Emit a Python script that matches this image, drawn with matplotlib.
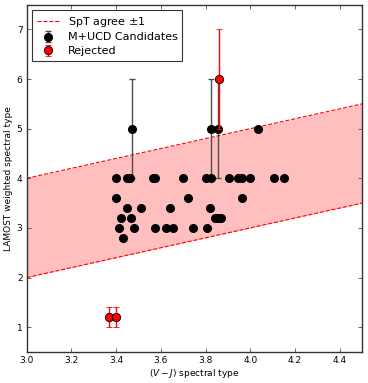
import numpy as np
import matplotlib
matplotlib.use("Agg")
import matplotlib.pyplot as plt

# accepted candidates: (V-J) spectral type, LAMOST type, error
cand_vj = [3.47, 3.826, 3.855, 4.035,
           3.40, 3.45, 3.46, 3.565, 3.575, 3.70, 3.80, 3.825, 3.905, 3.945, 3.965, 4.00, 4.105, 4.15,
           3.40, 3.72, 3.965,
           3.45, 3.51, 3.64, 3.82,
           3.42, 3.468, 3.84, 3.855, 3.87,
           3.415, 3.478, 3.575, 3.622, 3.655, 3.745, 3.807,
           3.432]
cand_lam = [5, 5, 5, 5,
            4, 4, 4, 4, 4, 4, 4, 4, 4, 4, 4, 4, 4, 4,
            3.6, 3.6, 3.6,
            3.4, 3.4, 3.4, 3.4,
            3.2, 3.2, 3.2, 3.2, 3.2,
            3.0, 3.0, 3.0, 3.0, 3.0, 3.0, 3.0,
            2.8]
cand_err = [1, 1, 1] + [0] * (len(cand_lam) - 3)

# rejected objects
rej_vj = [3.37, 3.40, 3.858]
rej_lam = [1.2, 1.2, 6.0]
rej_err = [0.2, 0.2, 1.0]

agree = 1.0
xlims = (3.0, 4.5)
ylims = (0.5, 7.5)

fig = plt.figure(figsize=(3.68, 3.83), dpi=100)
ax = fig.add_axes([0.0725, 0.081, 0.9115, 0.907])

bx = np.array(xlims)
ax.fill_between(bx, bx - agree, bx + agree, color='red', alpha=0.25, lw=0, zorder=1)
ax.plot(bx, bx + agree, 'r--', lw=0.8, zorder=2, label=r'SpT agree $\pm1$')
ax.plot(bx, bx - agree, 'r--', lw=0.8, zorder=2)

ax.errorbar(cand_vj, cand_lam, yerr=cand_err, fmt='o', color='k', mec='k',
            ecolor='0.3', ms=5.5, elinewidth=1, capsize=2.5, zorder=3,
            label='M+UCD Candidates')
ax.errorbar(rej_vj, rej_lam, yerr=rej_err, fmt='o', color='red', mec='k', mew=0.6,
            ecolor='red', ms=6, elinewidth=1, capsize=2.5, zorder=4,
            label='Rejected')

ax.set_xlim(*xlims)
ax.set_ylim(*ylims)
ax.set_xticks(np.arange(3.0, 4.41, 0.2))
ax.set_yticks(np.arange(1, 8))
ax.set_xlabel(r'$(V-J)$ spectral type', fontsize=6.5, labelpad=1)
ax.set_ylabel('LAMOST weighted spectral type', fontsize=6.5, labelpad=3)
ax.tick_params(direction='in', top=True, right=True, labelsize=6.5, length=3,
               width=0.7, color='0.4', pad=3)
for s in ax.spines.values():
    s.set_color('0.2')
    s.set_linewidth(1.0)

leg = ax.legend(loc='upper left', fontsize=8, fancybox=False, framealpha=1,
                edgecolor='0.2', handlelength=2.0, borderpad=0.4, labelspacing=0.35)
leg.get_frame().set_linewidth(0.8)

fig.savefig('out.png', dpi=100)
